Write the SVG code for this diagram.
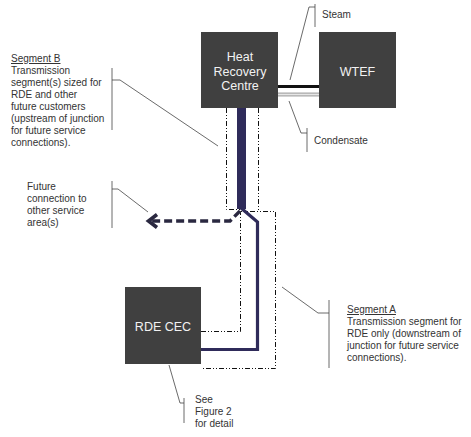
<svg xmlns="http://www.w3.org/2000/svg" width="471" height="437" viewBox="0 0 471 437">
<style>
.box{fill:#404040;}
.bt{font-family:"Liberation Sans",Arial,sans-serif;font-size:12.5px;fill:#f2f2f2;text-anchor:middle;}
.lb{font-family:"Liberation Sans",Arial,sans-serif;font-size:10px;fill:#333;}
.ld{fill:none;stroke:#444;stroke-width:0.8;}
.dd{fill:none;stroke:#111;stroke-width:1;stroke-dasharray:5 2 1 2 1 2;}
.pipe{fill:none;stroke:#2f2b5a;stroke-linejoin:miter;}
</style>
<rect width="471" height="437" fill="#fff"/>
<g id="connectors">
  <polyline class="dd" points="226.5,108 226.5,209.5 241,209.5"/>
  <polyline class="dd" points="258.5,108 258.5,212"/>
  <polyline class="dd" points="201,331.5 240.5,331.5 240.5,211.5 275.5,211.5 275.5,368.5 201,368.5"/>
  <line x1="278" y1="86.5" x2="319" y2="86.5" stroke="#111" stroke-width="3"/>
  <line x1="278" y1="94.5" x2="319" y2="94.5" stroke="#a8a8a8" stroke-width="4"/>
  <line x1="278" y1="94.5" x2="319" y2="94.5" stroke="#e6e6e6" stroke-width="1.4"/>
  <line class="pipe" x1="241.5" y1="108" x2="241.5" y2="209" stroke-width="9"/>
  <polyline class="pipe" points="241,208 257.5,222 257.5,349.5 201,349.5" stroke-width="3.2"/>
  <polyline fill="none" stroke="#2a2840" stroke-width="3.4" stroke-dasharray="8 4" points="240,211 230,221 152,221"/>
  <polyline fill="none" stroke="#2a2840" stroke-width="3.6" points="157,214.5 148.5,221 157,227.5"/>
  <polyline class="ld" points="309,7 315,7"/><line class="ld" x1="315" y1="4" x2="315" y2="27"/><line class="ld" x1="309" y1="7" x2="290" y2="80"/>
  <polyline class="ld" points="289,101 301,133 307,133"/><line class="ld" x1="307" y1="128" x2="307" y2="152"/>
  <polyline class="ld" points="218,146 120,80 112,80"/><line class="ld" x1="112" y1="68" x2="112" y2="130"/>
  <polyline class="ld" points="148,212 118,189 112,189"/><line class="ld" x1="112" y1="181" x2="112" y2="228"/>
  <polyline class="ld" points="282,287 318,313 329,313"/><line class="ld" x1="329" y1="300" x2="329" y2="368"/>
  <polyline class="ld" points="169,365 180,403 184,403"/><line class="ld" x1="184" y1="398" x2="184" y2="423"/>
</g>
<g id="hrc">
  <rect class="box" x="201" y="32" width="77" height="76"/>
  <text class="bt" x="240" y="61">Heat</text>
  <text class="bt" x="240" y="76">Recovery</text>
  <text class="bt" x="240" y="90">Centre</text>
</g>
<g id="wtef">
  <rect class="box" x="319" y="32" width="77" height="76"/>
  <text class="bt" x="357.5" y="76">WTEF</text>
</g>
<g id="rdecec">
  <rect class="box" x="125" y="287" width="76" height="77"/>
  <text class="bt" x="163" y="331">RDE CEC</text>
</g>
<g id="label-steam"><text class="lb" x="322" y="18">Steam</text></g>
<g id="label-condensate"><text class="lb" x="314" y="144">Condensate</text></g>
<g id="label-segB">
  <text class="lb" x="11" y="62" text-decoration="underline">Segment B</text>
  <text class="lb" x="11" y="74">Transmission</text>
  <text class="lb" x="11" y="86">segment(s) sized for</text>
  <text class="lb" x="11" y="98">RDE and other</text>
  <text class="lb" x="11" y="110">future customers</text>
  <text class="lb" x="11" y="122">(upstream of junction</text>
  <text class="lb" x="11" y="134">for future service</text>
  <text class="lb" x="11" y="146">connections).</text>
</g>
<g id="label-future">
  <text class="lb" x="27" y="190">Future</text>
  <text class="lb" x="27" y="202">connection to</text>
  <text class="lb" x="27" y="214">other service</text>
  <text class="lb" x="27" y="226">area(s)</text>
</g>
<g id="label-segA">
  <text class="lb" x="347" y="313" text-decoration="underline">Segment A</text>
  <text class="lb" x="347" y="325">Transmission segment for</text>
  <text class="lb" x="347" y="337">RDE only (downstream of</text>
  <text class="lb" x="347" y="349">junction for future service</text>
  <text class="lb" x="347" y="361">connections).</text>
</g>
<g id="label-see">
  <text class="lb" x="195" y="403">See</text>
  <text class="lb" x="195" y="415">Figure 2</text>
  <text class="lb" x="195" y="427">for detail</text>
</g>
</svg>
